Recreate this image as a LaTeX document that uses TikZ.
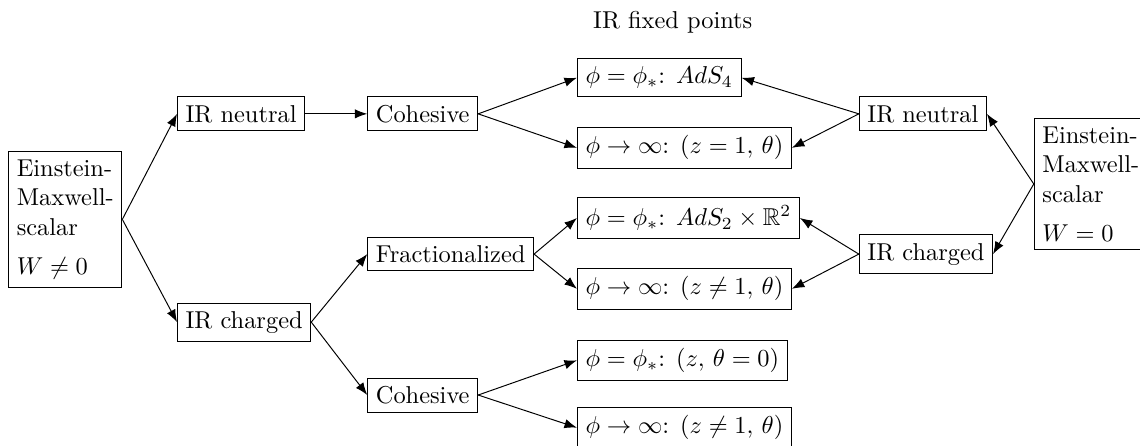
\documentclass[tikz,border=0pt]{standalone}
\usepackage{amsmath,amssymb}
\usepackage{tikz}
\usetikzlibrary{arrows.meta,positioning}

\begin{document}
\begin{tikzpicture}[
  box/.style={draw, anchor=west, align=center},
  model/.style={draw, align=left},
  arr/.style={-{Latex[length=1.8mm]}}
]
\useasboundingbox (0,0) rectangle (16.42,6.41);
\node (title) at (9.69,6.09) {IR fixed points};
% W nonzero side
\node[model] (emsL) at (0.94,3.25) {Einstein-\\Maxwell-\\scalar\\[4pt]$W\neq 0$};
\node[box] (neuL) at (2.55,4.77) {IR neutral};
\node[box] (chgL) at (2.55,1.77) {IR charged};
\node[box] (cohT) at (5.29,4.77) {Cohesive};
\node[box] (frac) at (5.29,2.75) {Fractionalized};
\node[box] (cohB) at (5.29,0.72) {Cohesive};
% fixed points
\node[box] (fp1) at (8.31,5.29) {$\phi=\phi_*$: $AdS_4$};
\node[box] (fp2) at (8.31,4.28) {$\phi\to\infty$: $(z=1,\,\theta)$};
\node[box] (fp3) at (8.31,3.27) {$\phi=\phi_*$: $AdS_2\times\mathbb{R}^2$};
\node[box] (fp4) at (8.31,2.25) {$\phi\to\infty$: $(z\neq 1,\,\theta)$};
\node[box] (fp5) at (8.31,1.22) {$\phi=\phi_*$: $(z,\,\theta=0)$};
\node[box] (fp6) at (8.31,0.25) {$\phi\to\infty$: $(z\neq 1,\,\theta)$};
% W zero side
\node[box] (neuR) at (12.37,4.77) {IR neutral};
\node[box] (chgR) at (12.37,2.75) {IR charged};
\node[model, anchor=west] (emsR) at (14.89,3.76) {Einstein-\\Maxwell-\\scalar\\[4pt]$W=0$};

\draw[arr] (emsL.east) -- (neuL.west);
\draw[arr] (emsL.east) -- (chgL.west);
\draw[arr] (neuL) -- (cohT);
\draw[arr] (chgL.east) -- (frac.west);
\draw[arr] (chgL.east) -- (cohB.west);
\draw[arr] (cohT.east) -- (fp1.west);
\draw[arr] (cohT.east) -- (fp2.west);
\draw[arr] (frac.east) -- (fp3.west);
\draw[arr] (frac.east) -- (fp4.west);
\draw[arr] (cohB.east) -- (fp5.west);
\draw[arr] (cohB.east) -- (fp6.west);
\draw[arr] (neuR.west) -- (fp1.east);
\draw[arr] (neuR.west) -- (fp2.east);
\draw[arr] (chgR.west) -- (fp3.east);
\draw[arr] (chgR.west) -- (fp4.east);
\draw[arr] (emsR.west) -- (neuR.east);
\draw[arr] (emsR.west) -- (chgR.east);
\end{tikzpicture}
\end{document}
